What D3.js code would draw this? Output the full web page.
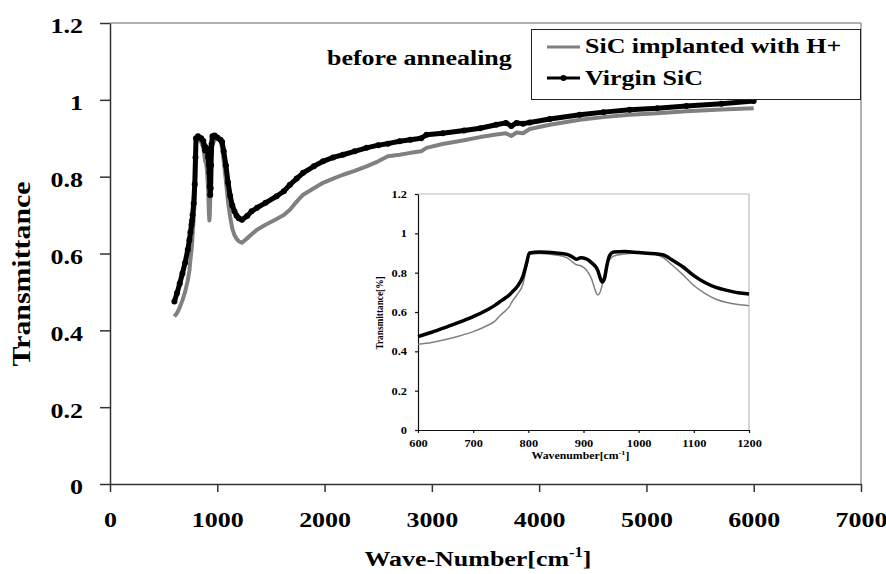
<!DOCTYPE html>
<html lang="en">
<head>
  <meta charset="UTF-8" />
  <title>SiC transmittance before annealing</title>
  <script src="https://d3js.org/d3.v7.min.js"></script>
  <style>
    body {
      margin: 0;
      background: #fff;
    }
    svg {
      display: block;
      font-family: 'Liberation Serif', 'Times New Roman', serif;
      font-weight: bold;
    }
  </style>
</head>
<body>
  <svg id="chart" width="886" height="574"></svg>

  <script>
    // 600-1200 cm-1 region (shared by the inset and the main chart)
    const lowWave = [600, 625, 650, 675, 700, 725, 740, 750, 760, 765, 770, 780, 790, 797, 802, 820, 850, 870, 880, 887, 895, 905, 915, 922, 926, 930, 934, 938, 942, 947, 955, 975, 1000, 1030, 1045, 1060, 1080, 1100, 1120, 1140, 1160, 1180, 1200];
    const lowVirgin = [0.475, 0.497, 0.522, 0.548, 0.576, 0.61, 0.635, 0.655, 0.675, 0.685, 0.70, 0.73, 0.78, 0.85, 0.90, 0.905, 0.90, 0.893, 0.88, 0.868, 0.876, 0.87, 0.85, 0.83, 0.81, 0.775, 0.752, 0.77, 0.83, 0.885, 0.905, 0.907, 0.902, 0.896, 0.89, 0.866, 0.83, 0.785, 0.75, 0.725, 0.71, 0.698, 0.692];
    const lowImplanted = [0.436, 0.445, 0.46, 0.478, 0.50, 0.53, 0.555, 0.585, 0.61, 0.625, 0.65, 0.69, 0.74, 0.83, 0.895, 0.898, 0.89, 0.875, 0.855, 0.84, 0.835, 0.815, 0.765, 0.705, 0.686, 0.70, 0.74, 0.79, 0.84, 0.865, 0.885, 0.895, 0.90, 0.893, 0.875, 0.84, 0.79, 0.735, 0.695, 0.665, 0.648, 0.638, 0.632];

    // 1200-6000 cm-1 tail of the main chart
    const highWave = [1230, 1280, 1320, 1370, 1450, 1553, 1620, 1677, 1740, 1800, 1900, 1986, 2080, 2172, 2280, 2391, 2500, 2590, 2700, 2800, 2900, 2950, 3100, 3300, 3450, 3600, 3690, 3740, 3790, 3850, 3913, 4100, 4379, 4600, 4845, 5100, 5373, 5700, 6000];
    const highVirgin = [0.688, 0.698, 0.71, 0.719, 0.732, 0.749, 0.762, 0.779, 0.795, 0.81, 0.827, 0.84, 0.85, 0.857, 0.866, 0.875, 0.882, 0.886, 0.892, 0.896, 0.90, 0.909, 0.913, 0.92, 0.926, 0.935, 0.94, 0.932, 0.94, 0.938, 0.941, 0.95, 0.961, 0.968, 0.974, 0.978, 0.984, 0.99, 0.997];
    const highImplanted = [0.628, 0.64, 0.65, 0.662, 0.675, 0.69, 0.70, 0.714, 0.735, 0.753, 0.77, 0.784, 0.795, 0.805, 0.815, 0.827, 0.84, 0.853, 0.857, 0.862, 0.866, 0.875, 0.885, 0.895, 0.903, 0.91, 0.913, 0.906, 0.915, 0.913, 0.924, 0.935, 0.948, 0.955, 0.961, 0.965, 0.97, 0.975, 0.978];

    const mainXTicks = [0, 1000, 2000, 3000, 4000, 5000, 6000, 7000];
    const mainYTicks = [0, 0.2, 0.4, 0.6, 0.8, 1, 1.2];
    const insetXTicks = [600, 700, 800, 900, 1000, 1100, 1200];
    const insetYTicks = [0, 0.2, 0.4, 0.6, 0.8, 1, 1.2];

    const seriesNames = ["SiC implanted with H+", "Virgin SiC"];

    const SX = 1.18; // the original picture is stretched sideways
    const svg = d3.select("#chart");

    const zip = (xs, ys) => xs.map((v, i) => ({ w: v, t: ys[i] }));
    const implantedAll = zip(lowWave.concat(highWave), lowImplanted.concat(highImplanted));
    const virginAll = zip(lowWave.concat(highWave), lowVirgin.concat(highVirgin));
    const implantedLow = zip(lowWave, lowImplanted);
    const virginLow = zip(lowWave, lowVirgin);

    // ---------- main chart ----------
    const x = d3.scaleLinear().domain([0, 7000]).range([110, 861]);
    const y = d3.scaleLinear().domain([0, 1.2]).range([484, 23]);

    // grey frame on top and right
    svg.append("line")
      .attr("x1", x(0)).attr("x2", x(7000))
      .attr("y1", y(1.2)).attr("y2", y(1.2))
      .attr("stroke", "#999").attr("stroke-width", 1.5);
    svg.append("line")
      .attr("x1", x(7000)).attr("x2", x(7000))
      .attr("y1", y(1.2)).attr("y2", y(0))
      .attr("stroke", "#999").attr("stroke-width", 1.5);

    const xAxis = svg.append("g")
      .attr("transform", `translate(0,${y(0)})`)
      .call(d3.axisBottom(x).tickValues(mainXTicks).tickSize(8).tickSizeOuter(0).tickPadding(19).tickFormat(d3.format("d")));
    const yAxis = svg.append("g")
      .attr("transform", `translate(${x(0)},0)`)
      .call(d3.axisLeft(y).tickValues(mainYTicks).tickSize(10).tickSizeOuter(0).tickFormat(d3.format("~g")));

    [xAxis, yAxis].forEach(a => {
      a.attr("font-family", null).attr("font-size", 22).attr("color", "#333");
      a.selectAll("path, line").attr("stroke-width", 1.5);
      a.selectAll("text").attr("fill", "#000").attr("transform", `scale(${SX},1)`);
    });
    yAxis.selectAll("text").attr("x", -27 / SX).attr("dy", "0.45em");

    svg.append("text")
      .attr("transform", "translate(30,274) rotate(-90)")
      .attr("text-anchor", "middle")
      .attr("font-size", 26)
      .attr("textLength", 185)
      .attr("lengthAdjust", "spacingAndGlyphs")
      .text("Transmittance");

    const xTitle = svg.append("text")
      .attr("transform", `translate(478,566) scale(${SX},1)`)
      .attr("text-anchor", "middle")
      .attr("font-size", 22);
    xTitle.append("tspan").text("Wave-Number[cm");
    xTitle.append("tspan").attr("font-size", 14).attr("dy", -9).text("-1");
    xTitle.append("tspan").attr("dy", 9).text("]");

    const mainLine = d3.line().x(d => x(d.w)).y(d => y(d.t));

    svg.append("path")
      .datum(implantedAll)
      .attr("fill", "none")
      .attr("stroke", "#808080")
      .attr("stroke-width", 4)
      .attr("stroke-linejoin", "round")
      .attr("d", mainLine);

    svg.append("path")
      .datum(virginAll)
      .attr("fill", "none")
      .attr("stroke", "#000")
      .attr("stroke-width", 5)
      .attr("stroke-linejoin", "round")
      .attr("d", mainLine);

    svg.selectAll(".dot")
      .data(virginAll)
      .join("circle")
      .attr("class", "dot")
      .attr("cx", d => x(d.w))
      .attr("cy", d => y(d.t))
      .attr("r", 3)
      .attr("fill", "#000");

    svg.append("text")
      .attr("transform", `translate(327,65) scale(${SX},1)`)
      .attr("font-size", 22)
      .text("before annealing");

    // legend
    const legend = svg.append("g");
    legend.append("rect")
      .attr("x", 531.5).attr("y", 29.5)
      .attr("width", 329).attr("height", 70)
      .attr("fill", "#fff").attr("stroke", "#222").attr("stroke-width", 1);
    const legendRows = [
      { name: seriesNames[0], color: "#808080", y: 47, base: 53, dot: false },
      { name: seriesNames[1], color: "#000", y: 78, base: 85, dot: true }
    ];
    legendRows.forEach(r => {
      legend.append("line")
        .attr("x1", 547).attr("x2", 580)
        .attr("y1", r.y).attr("y2", r.y)
        .attr("stroke", r.color).attr("stroke-width", 3);
      if (r.dot) {
        legend.append("circle").attr("cx", 563.5).attr("cy", r.y).attr("r", 3).attr("fill", r.color);
      }
      legend.append("text")
        .attr("transform", `translate(585,${r.base}) scale(${SX},1)`)
        .attr("font-size", 22)
        .text(r.name);
    });

    // ---------- inset ----------
    const xi = d3.scaleLinear().domain([600, 1200]).range([418, 749]);
    const yi = d3.scaleLinear().domain([0, 1.2]).range([430, 194]);

    svg.append("line")
      .attr("x1", xi(600)).attr("x2", xi(1200))
      .attr("y1", yi(1.2)).attr("y2", yi(1.2))
      .attr("stroke", "#bbb").attr("stroke-width", 1.2);
    svg.append("line")
      .attr("x1", xi(1200)).attr("x2", xi(1200))
      .attr("y1", yi(1.2)).attr("y2", yi(0))
      .attr("stroke", "#bbb").attr("stroke-width", 1.2);

    const xiAxis = svg.append("g")
      .attr("transform", `translate(0,${yi(0)})`)
      .call(d3.axisBottom(xi).tickValues(insetXTicks).tickSize(3).tickSizeOuter(0).tickPadding(7).tickFormat(d3.format("d")));
    const yiAxis = svg.append("g")
      .attr("transform", `translate(${xi(600)},0)`)
      .call(d3.axisLeft(yi).tickValues(insetYTicks).tickSize(3).tickSizeOuter(0).tickFormat(d3.format("~g")));

    [xiAxis, yiAxis].forEach(a => {
      a.attr("font-family", null).attr("font-size", 10.5).attr("color", "#111");
      a.selectAll("path, line").attr("stroke-width", 1.2);
      a.selectAll("text").attr("fill", "#000").attr("transform", `scale(${SX},1)`);
    });
    yiAxis.selectAll("text").attr("x", -11 / SX);

    svg.append("text")
      .attr("transform", "translate(383,313) rotate(-90)")
      .attr("text-anchor", "middle")
      .attr("font-size", 10)
      .attr("textLength", 73)
      .attr("lengthAdjust", "spacingAndGlyphs")
      .text("Transmittance[%]");

    const xiTitle = svg.append("text")
      .attr("transform", `translate(580.5,459) scale(${SX},1)`)
      .attr("text-anchor", "middle")
      .attr("font-size", 10);
    xiTitle.append("tspan").text("Wavenumber[cm");
    xiTitle.append("tspan").attr("font-size", 7).attr("dy", -4).text("-1");
    xiTitle.append("tspan").attr("dy", 4).text("]");

    const insetLine = d3.line().x(d => xi(d.w)).y(d => yi(d.t)).curve(d3.curveMonotoneX);

    svg.append("path")
      .datum(implantedLow)
      .attr("fill", "none")
      .attr("stroke", "#808080")
      .attr("stroke-width", 1.5)
      .attr("d", insetLine);

    svg.append("path")
      .datum(virginLow)
      .attr("fill", "none")
      .attr("stroke", "#000")
      .attr("stroke-width", 3.5)
      .attr("stroke-linejoin", "round")
      .attr("d", insetLine);
  </script>
</body>
</html>
